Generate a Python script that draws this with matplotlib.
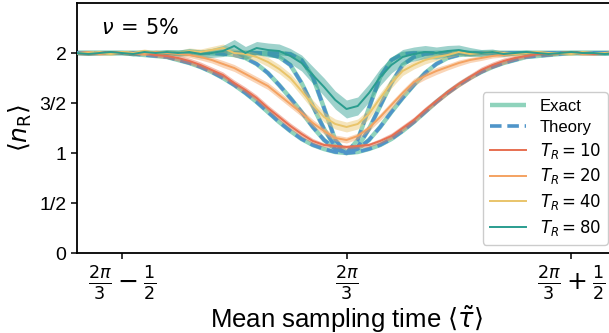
import numpy as np
import matplotlib.pyplot as plt

plt.rcParams["font.family"] = ["Liberation Sans", "DejaVu Sans"]
plt.rcParams["mathtext.fontset"] = "dejavusans"

# ---------- data ----------
# offsets from 2pi/3, step 0.025
offsets = np.linspace(-0.6, 0.6, 49)
x = 2 * np.pi / 3 + offsets

theory_10 = [2.00, 2.00, 2.00, 2.00, 2.00, 1.99, 1.98, 1.97, 1.96, 1.93, 1.90, 1.86, 1.81, 1.75, 1.68, 1.60,
             1.51, 1.41, 1.31, 1.22, 1.14, 1.08, 1.04, 1.01, 1.00, 1.01, 1.04, 1.08, 1.14, 1.22, 1.31, 1.41,
             1.51, 1.60, 1.68, 1.75, 1.81, 1.86, 1.90, 1.93, 1.96, 1.97, 1.98, 1.99, 2.00, 2.00, 2.00, 2.00, 2.00]
theory_20 = [2.00, 2.00, 2.00, 2.00, 2.00, 2.00, 2.00, 2.00, 2.00, 2.00, 2.00, 2.00, 2.00, 1.99, 1.98, 1.95,
             1.89, 1.80, 1.68, 1.55, 1.41, 1.26, 1.13, 1.04, 1.00, 1.04, 1.13, 1.26, 1.41, 1.55, 1.68, 1.80,
             1.89, 1.95, 1.98, 1.99, 2.00, 2.00, 2.00, 2.00, 2.00, 2.00, 2.00, 2.00, 2.00, 2.00, 2.00, 2.00, 2.00]
theory_40 = [2.00, 2.00, 2.00, 2.00, 2.00, 2.00, 2.00, 2.00, 2.00, 2.00, 2.00, 2.00, 2.00, 2.00, 2.00, 2.00,
             2.00, 1.99, 1.96, 1.88, 1.70, 1.47, 1.24, 1.06, 1.00, 1.06, 1.24, 1.47, 1.70, 1.88, 1.96, 1.99,
             2.00, 2.00, 2.00, 2.00, 2.00, 2.00, 2.00, 2.00, 2.00, 2.00, 2.00, 2.00, 2.00, 2.00, 2.00, 2.00, 2.00]
theory_80 = [2.00, 2.00, 2.00, 2.00, 2.00, 2.00, 2.00, 2.00, 2.00, 2.00, 2.00, 2.00, 2.00, 2.00, 2.00, 2.00,
             2.00, 2.00, 2.00, 1.99, 1.93, 1.76, 1.45, 1.13, 1.00, 1.13, 1.45, 1.76, 1.93, 1.99, 2.00, 2.00,
             2.00, 2.00, 2.00, 2.00, 2.00, 2.00, 2.00, 2.00, 2.00, 2.00, 2.00, 2.00, 2.00, 2.00, 2.00, 2.00, 2.00]
# exact results coincide with theory at this scale
exact_10, exact_20, exact_40, exact_80 = theory_10, theory_20, theory_40, theory_80

sim_10 = [2.00, 1.99, 2.00, 2.01, 2.00, 1.99, 2.00, 1.98, 1.97, 1.95, 1.92, 1.88, 1.83, 1.78, 1.70, 1.63,
          1.55, 1.45, 1.36, 1.27, 1.19, 1.12, 1.08, 1.07, 1.06, 1.07, 1.08, 1.12, 1.17, 1.25, 1.33, 1.43,
          1.52, 1.61, 1.69, 1.76, 1.83, 1.88, 1.92, 1.95, 1.97, 1.99, 1.99, 2.00, 2.01, 2.00, 1.99, 2.00, 2.00]
sim_20 = [2.00, 2.01, 1.99, 2.00, 2.01, 2.00, 1.99, 2.01, 2.00, 1.99, 1.98, 1.96, 1.93, 1.89, 1.85, 1.79,
          1.73, 1.67, 1.58, 1.49, 1.40, 1.30, 1.22, 1.15, 1.13, 1.17, 1.25, 1.36, 1.48, 1.60, 1.71, 1.77,
          1.82, 1.86, 1.90, 1.93, 1.95, 1.97, 1.98, 1.99, 2.00, 2.01, 1.99, 2.00, 2.01, 1.99, 2.00, 2.00, 2.01]
sim_40 = [2.00, 2.00, 2.01, 1.99, 2.01, 2.00, 2.02, 2.00, 2.01, 2.00, 2.02, 2.01, 2.03, 2.05, 2.00, 1.99,
          1.96, 1.91, 1.84, 1.75, 1.62, 1.48, 1.36, 1.29, 1.26, 1.29, 1.39, 1.55, 1.70, 1.82, 1.88, 1.93,
          1.96, 1.98, 2.01, 1.99, 2.00, 2.01, 2.00, 1.99, 2.00, 2.01, 2.00, 2.00, 1.99, 2.01, 2.00, 2.00, 2.00]
sim_80 = [2.00, 1.99, 2.00, 2.01, 2.00, 1.99, 2.01, 2.00, 2.01, 2.00, 2.01, 1.99, 2.00, 2.02, 2.07, 2.00,
          2.05, 2.03, 2.02, 1.97, 1.90, 1.78, 1.66, 1.53, 1.44, 1.47, 1.60, 1.76, 1.88, 1.96, 1.99, 2.01,
          2.00, 2.02, 2.03, 2.01, 2.00, 2.01, 1.99, 2.00, 2.01, 2.00, 1.99, 2.00, 2.01, 2.00, 2.00, 1.99, 2.00]

err_10 = [0.015, 0.015, 0.015, 0.015, 0.015, 0.015, 0.02, 0.02, 0.025, 0.03, 0.03, 0.03, 0.03, 0.03, 0.03, 0.03,
          0.03, 0.03, 0.03, 0.03, 0.03, 0.025, 0.02, 0.02, 0.02, 0.02, 0.02, 0.025, 0.03, 0.03, 0.03, 0.03,
          0.03, 0.03, 0.03, 0.03, 0.03, 0.03, 0.03, 0.025, 0.02, 0.02, 0.02, 0.015, 0.015, 0.015, 0.015, 0.015, 0.015]
err_20 = [0.015, 0.015, 0.015, 0.015, 0.015, 0.015, 0.015, 0.02, 0.02, 0.02, 0.025, 0.03, 0.03, 0.035, 0.035, 0.035,
          0.035, 0.035, 0.035, 0.035, 0.035, 0.035, 0.03, 0.03, 0.03, 0.03, 0.03, 0.035, 0.035, 0.035, 0.035, 0.035,
          0.035, 0.03, 0.03, 0.025, 0.025, 0.02, 0.02, 0.02, 0.015, 0.015, 0.015, 0.015, 0.015, 0.015, 0.015, 0.015, 0.015]
err_40 = [0.015, 0.015, 0.015, 0.015, 0.015, 0.02, 0.02, 0.02, 0.02, 0.025, 0.03, 0.03, 0.035, 0.04, 0.04, 0.04,
          0.04, 0.045, 0.045, 0.045, 0.05, 0.05, 0.05, 0.05, 0.05, 0.05, 0.05, 0.05, 0.05, 0.045, 0.04, 0.04,
          0.035, 0.03, 0.03, 0.025, 0.02, 0.02, 0.02, 0.02, 0.015, 0.015, 0.015, 0.015, 0.015, 0.015, 0.015, 0.015, 0.015]
err_80 = [0.015, 0.015, 0.015, 0.015, 0.015, 0.02, 0.02, 0.02, 0.025, 0.03, 0.035, 0.04, 0.045, 0.055, 0.065, 0.065,
          0.065, 0.07, 0.07, 0.075, 0.08, 0.085, 0.09, 0.09, 0.09, 0.09, 0.09, 0.085, 0.08, 0.075, 0.07, 0.065,
          0.06, 0.055, 0.05, 0.045, 0.035, 0.03, 0.025, 0.02, 0.02, 0.02, 0.015, 0.015, 0.015, 0.015, 0.015, 0.015, 0.015]

T_R = [10, 20, 40, 80]
sims = [sim_10, sim_20, sim_40, sim_80]
errs = [err_10, err_20, err_40, err_80]
theories = [theory_10, theory_20, theory_40, theory_80]
exacts = [exact_10, exact_20, exact_40, exact_80]
colors = ["#e76f51", "#f4a261", "#e9c46a", "#2a9d8f"]

exact_color = "#8fd3bc"
theory_color = "#4f95c9"

# ---------- plot ----------
fig = plt.figure(figsize=(6.09, 3.33), dpi=100)
ax = fig.add_axes([77 / 609, 80 / 333, 539 / 609, 250 / 333])

for i, (ex, th) in enumerate(zip(exacts, theories)):
    ax.plot(x, ex, color=exact_color, lw=3.2, solid_capstyle="butt",
            label="Exact" if i == 0 else None, zorder=2)
    ax.plot(x, th, color=theory_color, lw=2.6, dashes=(3.2, 1.6),
            label="Theory" if i == 0 else None, zorder=3)

for tr, y, e, c in zip(T_R, sims, errs, colors):
    y = np.array(y)
    e = np.array(e)
    ax.fill_between(x, y - e, y + e, color=c, alpha=0.45, lw=0, zorder=4)
    ax.plot(x, y, color=c, lw=1.4, label=rf"$T_R = {tr}$", zorder=5)

c0 = 2 * np.pi / 3
ax.set_xlim(c0 - 0.6, c0 + 0.6)
ax.set_ylim(0, 2.5)
ax.set_xticks([c0 - 0.5, c0, c0 + 0.5])
ax.set_xticklabels([r"$\frac{2\pi}{3} - \frac{1}{2}$", r"$\frac{2\pi}{3}$",
                    r"$\frac{2\pi}{3} + \frac{1}{2}$"], fontsize=18)
ax.set_yticks([0, 0.5, 1, 1.5, 2])
ax.set_yticklabels(["0", "1/2", "1", "3/2", "2"], fontsize=14)
ax.tick_params(length=4, width=1.1)
ax.tick_params(axis="x", pad=4)
for s in ax.spines.values():
    s.set_linewidth(1.3)

ax.set_xlabel(r"Mean sampling time $\langle\tilde{\tau}\rangle$", fontsize=18.5, labelpad=1)
ax.set_ylabel(r"$\langle n_{\mathrm{R}}\rangle$", fontsize=18, labelpad=4)
ax.text(0.045, 0.9, r"$\nu\,=\,5\%$", transform=ax.transAxes, fontsize=15, va="center")

ax.legend(loc="lower right", fontsize=12, framealpha=1, borderaxespad=0.5,
          labelspacing=0.35, handlelength=2.2, handletextpad=0.8)

fig.savefig("out.png", dpi=100)
